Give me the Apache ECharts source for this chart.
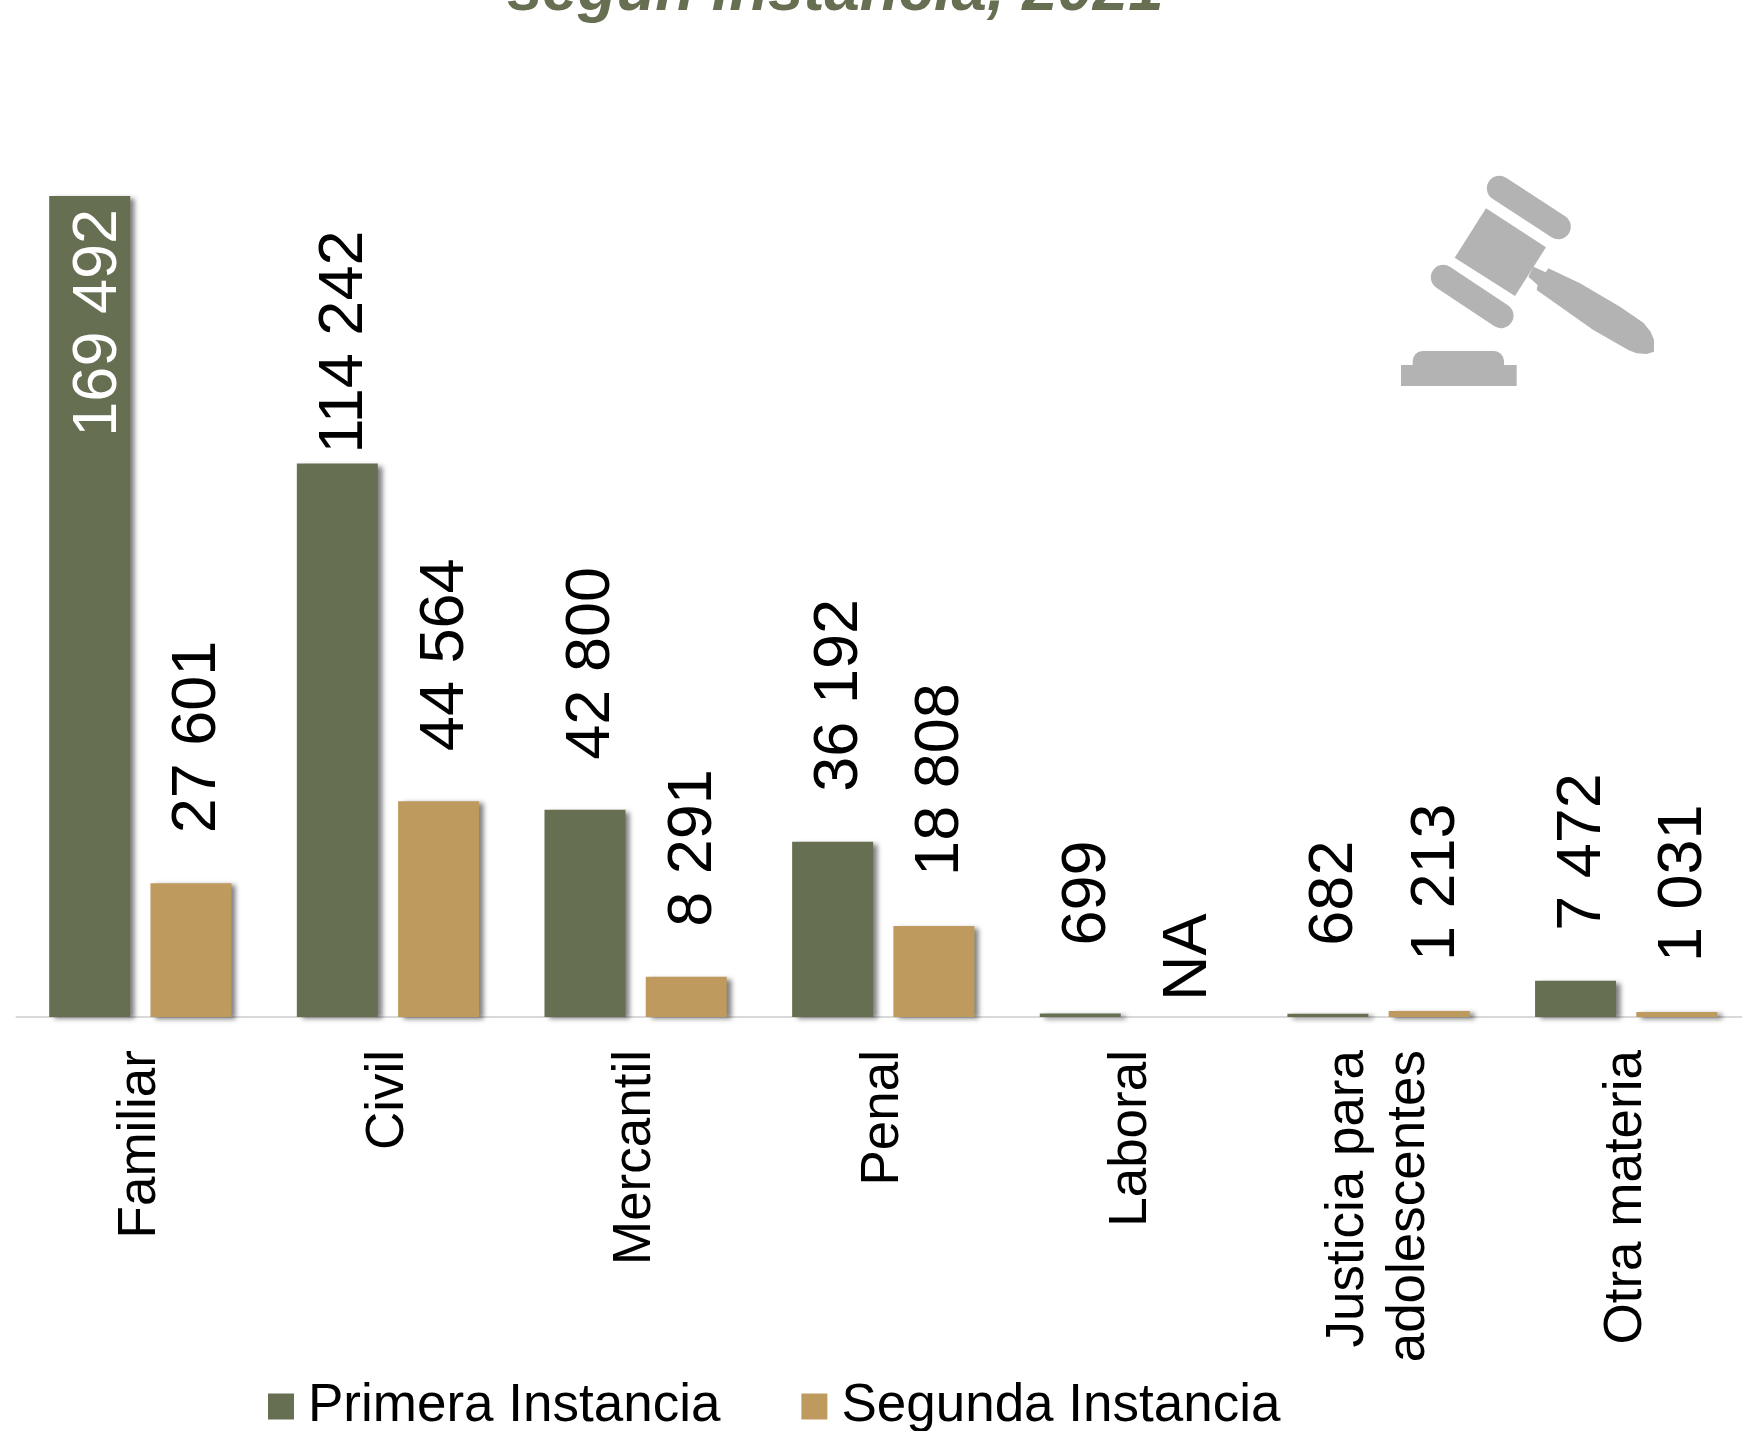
<!DOCTYPE html>
<html>
<head>
<meta charset="utf-8">
<style>html,body{margin:0;padding:0;background:#fff;overflow:hidden}#container{width:1742px;height:1431px}</style>
<script src="https://cdn.jsdelivr.net/npm/echarts@6/dist/echarts.min.js"></script>
</head>
<body>
<div id="container"></div>
<script>
var categories = ['Familiar', 'Civil', 'Mercantil', 'Penal', 'Laboral', 'Justicia para\nadolescentes', 'Otra materia'];
var primera = [169492, 114242, 42800, 36192, 699, 682, 7472];
var segunda = [27601, 44564, 8291, 18808, null, 1213, 1031];
var seriesNames = ['Primera Instancia', 'Segunda Instancia'];
var titleText = 'según instancia, 2021';

var OLIVE = '#676f52', TAN = '#bf9a5f', FONT = '"Liberation Sans", Arial, sans-serif';

function fmt(v) {
    return String(v).replace(/\B(?=(\d{3})+$)/g, ' ');
}

var barShadow = { shadowColor: 'rgba(0,0,0,0.5)', shadowBlur: 5, shadowOffsetX: 5, shadowOffsetY: 2 };

// el offset gira con la etiqueta: [0, n] mueve n px a la derecha
function valueLabel(distance) {
    return { show: true, position: 'top', rotate: 90, align: 'left', verticalAlign: 'middle', distance: distance, offset: [0, 7] };
}

var primeraData = primera.map(function (v, i) {
    var item = { value: v, label: valueLabel(50) };
    if (i === 0) {
        // el primero va dentro de la barra
        item.label = { show: true, position: 'insideTop', rotate: 90, align: 'right', verticalAlign: 'middle', distance: 13, offset: [0, 9], color: '#fff' };
    }
    if (i === 1) item.label = valueLabel(10);
    if (v < 1000) item.label = valueLabel(68);
    return item;
});

var segundaData = segunda.map(function (v) {
    if (v === null) return { value: 0, na: true, label: valueLabel(16), itemStyle: { shadowBlur: 0, shadowOffsetX: 0, shadowOffsetY: 0 } };
    return { value: v, label: valueLabel(50) };
});

function labelText(p) {
    return p.data.na ? 'NA' : fmt(p.value);
}

// martillo decorativo, puntos medidos sobre el recorte
function gp(pts) {
    return pts.map(function (p) { return [p[0] / 3 + 1380, p[1] / 3 + 150]; });
}
var gray = '#b3b3b3';
var gavel = [
    { type: 'polyline', silent: true, shape: { points: gp([[358, 115], [535, 230]]) }, style: { stroke: gray, lineWidth: 25, lineCap: 'round', fill: null } },
    { type: 'polyline', silent: true, shape: { points: gp([[190, 382], [363, 497]]) }, style: { stroke: gray, lineWidth: 25, lineCap: 'round', fill: null } },
    { type: 'polygon', silent: true, shape: { points: gp([[318, 175], [498, 292], [405, 438], [224, 323]]) }, style: { fill: gray } },
    { type: 'polygon', silent: true, shape: { points: gp([[445, 380], [460, 350], [497, 367], [505, 355], [600, 400], [720, 470], [790, 518], [812, 545], [822, 570], [822, 605], [800, 612], [770, 610], [745, 600], [640, 540], [470, 420], [473, 405]]) }, style: { fill: gray } },
    { type: 'rect', silent: true, shape: { x: 1380 + 98 / 3, y: 150 + 603 / 3, width: 274 / 3, height: 60 / 3, r: [10, 10, 0, 0] }, style: { fill: gray } },
    { type: 'rect', silent: true, shape: { x: 1380 + 63 / 3, y: 150 + 645 / 3, width: 347 / 3, height: 63 / 3 }, style: { fill: gray } }
];

var myChart = echarts.init(document.getElementById('container'));
myChart.setOption({
    animation: false,
    backgroundColor: '#fff',
    title: {
        text: titleText,
        left: 502,
        top: -45,
        textStyle: { color: OLIVE, fontFamily: FONT, fontSize: 63.5, fontStyle: 'italic', fontWeight: 'bold' }
    },
    legend: {
        data: seriesNames,
        left: 263,
        top: 1375,
        icon: 'rect',
        itemWidth: 26,
        itemHeight: 26,
        itemGap: 81,
        itemStyle: { shadowBlur: 0, shadowOffsetX: 0, shadowOffsetY: 0 },
        textStyle: { color: '#000', fontFamily: FONT, fontSize: 53, padding: [0, 0, 0, 9] }
    },
    grid: { left: 16.5, top: 193.5, width: 1733.5, height: 823.5, outerBoundsMode: 'none' },
    xAxis: {
        type: 'category',
        data: categories,
        axisTick: { show: false },
        axisLine: { lineStyle: { color: '#d9d9d9', width: 2 } },
        axisLabel: {
            interval: 0,
            rotate: 90,
            margin: 33,
            color: '#000',
            fontFamily: FONT,
            fontSize: 53,
            lineHeight: 61,
            padding: [0, 0, 8, 0]
        }
    },
    yAxis: { type: 'value', min: 0, max: 170000, show: false, splitLine: { show: false } },
    series: [
        {
            name: seriesNames[0],
            type: 'bar',
            barWidth: 81,
            barGap: '25%',
            data: primeraData,
            itemStyle: Object.assign({ color: OLIVE }, barShadow),
            label: { color: '#000', fontFamily: FONT, fontSize: 63, formatter: labelText }
        },
        {
            name: seriesNames[1],
            type: 'bar',
            barWidth: 81,
            barGap: '25%',
            data: segundaData,
            itemStyle: Object.assign({ color: TAN }, barShadow),
            label: { color: '#000', fontFamily: FONT, fontSize: 63, formatter: labelText }
        }
    ],
    graphic: gavel
});
</script>
</body>
</html>
